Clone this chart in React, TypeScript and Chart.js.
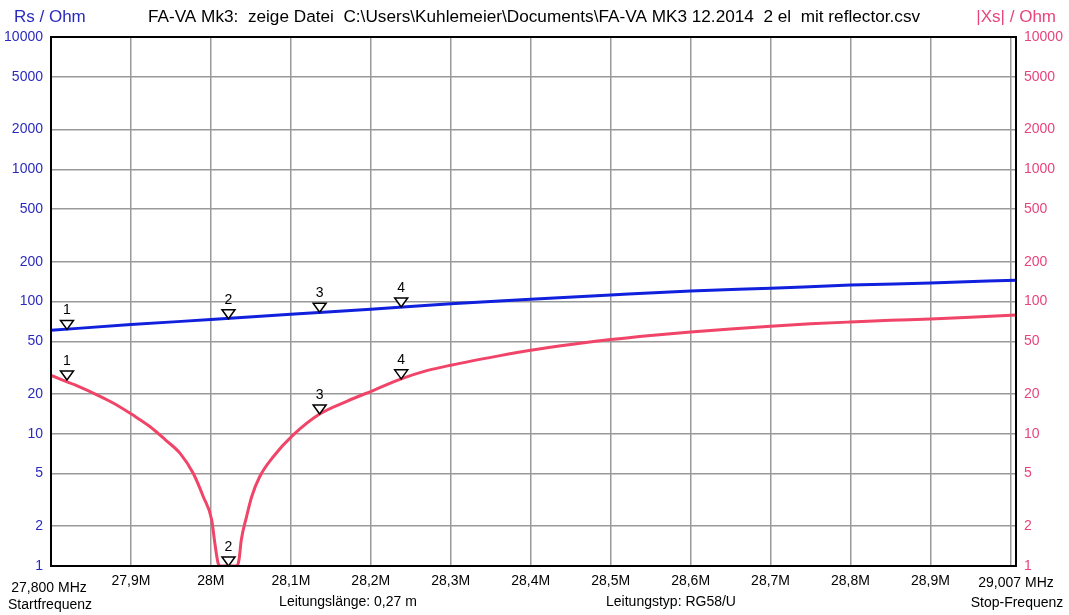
import { useEffect, useRef } from 'react';
import { Chart, registerables } from 'chart.js';

Chart.register(...registerables);

// ---- data (MHz / Ohm) ----
const rsFreq = [27.8, 27.9, 28.0, 28.1, 28.2, 28.3, 28.4, 28.5, 28.6, 28.7, 28.8, 28.9, 29.007];
const rsValues = [60.5, 67, 73, 80, 87.3, 96, 104, 112, 120, 126, 133, 138, 145];

const xsFreq = [
  27.8, 27.83, 27.862, 27.88, 27.902, 27.924, 27.943, 27.9615, 27.978, 27.9905,
  28.001, 28.005, 28.009, 28.012, 28.022, 28.032, 28.035, 28.038, 28.0446, 28.051,
  28.061, 28.078, 28.103, 28.136, 28.17, 28.205, 28.238, 28.27, 28.3, 28.36,
  28.4, 28.45, 28.5, 28.55, 28.6, 28.65, 28.7, 28.75, 28.8, 28.85, 28.9, 28.95, 29.007,
];
const xsValues = [
  27.6, 23.4, 19.1, 16.8, 13.9, 11.3, 9.0, 7.1, 5.0, 3.34,
  2.23, 1.48, 1.05, 1, 1, 1, 1.1, 1.57, 2.36, 3.34,
  4.73, 6.7, 9.8, 14.1, 17.6, 21.5, 26, 30, 33, 38.8,
  42.8, 47.3, 51.5, 55.3, 58.8, 62, 65.1, 67.8, 70, 72, 73.8, 76, 79,
];

const markerFreqs = [27.82, 28.022, 28.136, 28.238];
const markerRs = [61.5, 74, 83, 90.8];
const markerXs = [25.5, 1, 14.1, 26];
const markerLabels = ['1', '2', '3', '4'];

const yTicks = [1, 2, 5, 10, 20, 50, 100, 200, 500, 1000, 2000, 5000, 10000];
const xTicks = [27.9, 28.0, 28.1, 28.2, 28.3, 28.4, 28.5, 28.6, 28.7, 28.8, 28.9, 29.0];
const xTickLabels = ['27,9M', '28M', '28,1M', '28,2M', '28,3M', '28,4M', '28,5M', '28,6M', '28,7M', '28,8M', '28,9M', ''];

const titleText = 'FA-VA Mk3:  zeige Datei  C:\\Users\\Kuhlemeier\\Documents\\FA-VA MK3 12.2014  2 el  mit reflector.csv';
const leftAxisTitle = 'Rs / Ohm';
const rightAxisTitle = '|Xs| / Ohm';
const startFreqText = '27,800 MHz';
const startLabel = 'Startfrequenz';
const stopFreqText = '29,007 MHz';
const stopLabel = 'Stop-Frequenz';
const lineLengthText = 'Leitungslänge: 0,27 m';
const lineTypeText = 'Leitungstyp: RG58/U';

const FONT = '"Liberation Sans", Arial, sans-serif';
const BLUE_TEXT = '#2a2ac0';
const RED_TEXT = '#e8457a';
const BLUE_LINE = '#1020dc';
const RED_LINE = '#f04468';
const GRID = '#999999';

const overlayPlugin = {
  id: 'overlay',
  afterDatasetsDraw(chart: any) {
    const { ctx, chartArea, scales } = chart;
    const x = scales.x;
    const y = scales.y;
    ctx.save();
    // frame
    ctx.strokeStyle = '#000';
    ctx.lineWidth = 2;
    ctx.strokeRect(chartArea.left, chartArea.top, chartArea.right - chartArea.left, chartArea.bottom - chartArea.top);
    // markers
    [markerRs, markerXs].forEach((vals) => {
      markerFreqs.forEach((f, i) => {
        const px = x.getPixelForValue(f);
        const py = y.getPixelForValue(vals[i]);
        ctx.beginPath();
        ctx.moveTo(px, py);
        ctx.lineTo(px - 6.5, py - 9);
        ctx.lineTo(px + 6.5, py - 9);
        ctx.closePath();
        ctx.fillStyle = '#fff';
        ctx.fill();
        ctx.lineWidth = 1.5;
        ctx.strokeStyle = '#000';
        ctx.stroke();
        ctx.fillStyle = '#000';
        ctx.font = `14px ${FONT}`;
        ctx.textAlign = 'center';
        ctx.textBaseline = 'middle';
        ctx.fillText(markerLabels[i], px, py - 19);
      });
    });
    ctx.restore();
  },
  afterDraw(chart: any) {
    const { ctx } = chart;
    ctx.save();
    ctx.textBaseline = 'middle';
    ctx.font = `17px ${FONT}`;
    ctx.fillStyle = BLUE_TEXT;
    ctx.textAlign = 'left';
    ctx.fillText(leftAxisTitle, 14, 17);
    ctx.fillStyle = RED_TEXT;
    ctx.textAlign = 'right';
    ctx.fillText(rightAxisTitle, 1056, 17);
    ctx.font = `17.2px ${FONT}`;
    ctx.fillStyle = '#000';
    ctx.textAlign = 'center';
    ctx.fillText(titleText, 534, 17);
    ctx.font = `14px ${FONT}`;
    ctx.fillText(startFreqText, 49, 588);
    ctx.fillText(startLabel, 50, 605);
    ctx.fillText(stopFreqText, 1016, 583);
    ctx.fillText(stopLabel, 1017, 603);
    ctx.fillText(lineLengthText, 348, 602);
    ctx.fillText(lineTypeText, 671, 602);
    ctx.restore();
  },
};

export default function App() {
  const ref = useRef<HTMLCanvasElement | null>(null);
  useEffect(() => {
    document.body.style.margin = '0';
    const canvas = ref.current;
    if (!canvas) return;
    const chart = new Chart(canvas, {
      type: 'line',
      data: {
        datasets: [
          {
            label: 'Rs',
            data: rsFreq.map((f, i) => ({ x: f, y: rsValues[i] })),
            borderColor: BLUE_LINE,
            borderWidth: 3,
            pointRadius: 0,
            cubicInterpolationMode: 'monotone',
            yAxisID: 'y',
          },
          {
            label: '|Xs|',
            data: xsFreq.map((f, i) => ({ x: f, y: xsValues[i] })),
            borderColor: RED_LINE,
            borderWidth: 3,
            pointRadius: 0,
            cubicInterpolationMode: 'monotone',
            yAxisID: 'y',
          },
        ],
      },
      options: {
        responsive: false,
        animation: false,
        events: [],
        layout: { padding: { top: 37, left: 0, right: 0, bottom: 0 } },
        plugins: { legend: { display: false }, title: { display: false }, tooltip: { enabled: false } },
        scales: {
          x: {
            type: 'linear',
            min: 27.8,
            max: 29.007,
            afterBuildTicks: (s: any) => {
              s.ticks = xTicks.map((v) => ({ value: v }));
            },
            afterFit: (s: any) => {
              s.height = 49;
            },
            grid: { color: GRID, lineWidth: 1.5, drawTicks: false },
            border: { display: false },
            ticks: {
              autoSkip: false,
              maxRotation: 0,
              padding: 7,
              color: '#000',
              font: { family: FONT, size: 14 },
              callback: (_v: any, i: number) => xTickLabels[i],
            },
          },
          y: {
            type: 'logarithmic',
            position: 'left',
            min: 1,
            max: 10000,
            afterBuildTicks: (s: any) => {
              s.ticks = yTicks.map((v) => ({ value: v }));
            },
            afterFit: (s: any) => {
              s.width = 51;
            },
            grid: { color: GRID, lineWidth: 1.5, drawTicks: false },
            border: { display: false },
            ticks: {
              autoSkip: false,
              padding: 8,
              color: BLUE_TEXT,
              font: { family: FONT, size: 14 },
              callback: (v: any) => String(v),
            },
          },
          y2: {
            type: 'logarithmic',
            position: 'right',
            min: 1,
            max: 10000,
            afterBuildTicks: (s: any) => {
              s.ticks = yTicks.map((v) => ({ value: v }));
            },
            afterFit: (s: any) => {
              s.width = 53;
            },
            grid: { display: false, drawTicks: false },
            border: { display: false },
            ticks: {
              autoSkip: false,
              padding: 8,
              color: RED_TEXT,
              font: { family: FONT, size: 14 },
              callback: (v: any) => String(v),
            },
          },
        },
      } as any,
      plugins: [overlayPlugin],
    });
    return () => chart.destroy();
  }, []);
  return <canvas ref={ref} width={1069} height={615} style={{ display: 'block' }} />;
}
